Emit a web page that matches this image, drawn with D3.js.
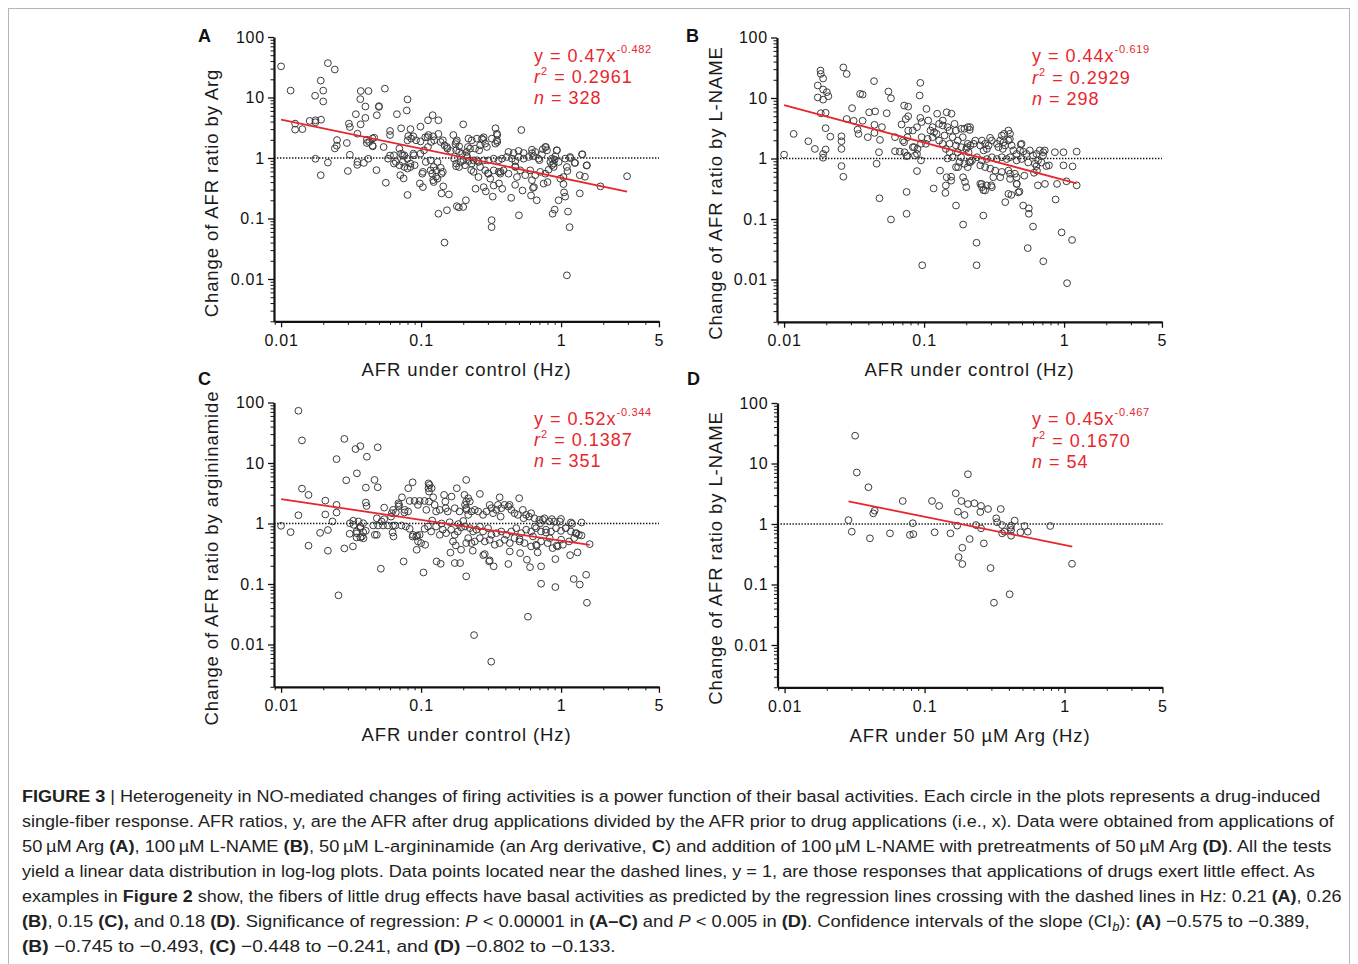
<!DOCTYPE html>
<html><head><meta charset="utf-8">
<script src="https://cdn.jsdelivr.net/npm/d3@7"></script>
<style>body{margin:0;background:#fff}svg{display:block}</style>
</head><body>
<svg id="fig" width="1358" height="964"></svg>
<script>
// ---------- DATA ----------
const dataA = [
[0.01,32.7],[0.0117,13],[0.0126,3.7],[0.0126,2.94],[0.0142,3.0],[0.016,4.1],[0.0175,10.7],[0.0176,4.2],[0.0176,3.9],[0.0176,0.97],
[0.0192,19],[0.0193,4.3],[0.0192,0.52],[0.02,13],[0.02,8.6],[0.0216,37],[0.0216,0.84],[0.0242,29],[0.0242,1.44],[0.0251,1.98],
[0.025,1.6],[0.0295,1.77],[0.0305,3.7],[0.031,3.25],[0.031,1.13],[0.03,0.61],[0.0342,5.3],[0.0371,12.8],[0.0368,9.4],[0.037,3.6],
[0.035,0.77],[0.04,7.1],[0.04,4.6],[0.0421,12.8],[0.041,2.0],[0.041,1.77],[0.042,0.97],[0.039,0.83],[0.045,2.1],[0.045,1.6],
[0.0483,5.1],[0.05,7.2],[0.05,7.0],[0.048,0.63],[0.0551,14],[0.054,1.52],[0.056,0.39],[0.06,2.4],[0.06,2.8],[0.06,1.1],
[0.064,0.81],[0.0672,5.3],[0.07,1.43],[0.072,3.1],[0.071,0.52],[0.074,1.1],[0.075,0.46],[0.079,6.1],[0.08,9.3],[0.08,0.245],
[0.084,3.0],[0.081,2.3],[0.085,2.1],[0.088,1.18],[0.084,0.71],[0.08,0.97],[0.09,0.76],[0.099,3.3],[0.099,1.88],[0.098,0.38],
[0.103,0.59],[0.103,0.33],[0.107,2.2],[0.112,4.2],[0.121,5.1],[0.118,1.84],[0.113,2.4],[0.133,4.2],[0.133,2.5],[0.133,0.12],
[0.122,0.43],[0.128,0.49],[0.138,1.84],[0.14,0.55],[0.14,0.26],[0.144,0.34],[0.147,0.04],[0.153,0.137],[0.158,0.25],[0.153,1.52],
[0.17,2.4],[0.176,1.7],[0.178,0.73],[0.18,0.16],[0.186,0.153],[0.2,3.6],[0.2,0.155],[0.209,0.2],[0.21,1.1],[0.216,1.52],
[0.228,0.63],[0.245,0.31],[0.25,0.92],[0.26,1.34],[0.278,2.0],[0.28,2.2],[0.28,0.33],[0.29,0.28],[0.3,0.56],[0.319,0.094],
[0.319,0.072],[0.325,0.23],[0.33,0.35],[0.34,3.1],[0.35,2.4],[0.35,1.84],[0.36,0.38],[0.38,0.31],[0.37,0.59],[0.44,0.22],
[0.47,0.36],[0.47,0.73],[0.5,0.113],[0.52,2.9],[0.53,0.29],[0.62,1.2],[0.61,0.24],[0.63,0.32],[0.64,0.33],[0.67,0.2],
[0.7,0.92],[0.74,1.4],[0.78,1.52],[0.8,0.4],[0.87,0.12],[0.9,0.14],[0.93,1.34],[0.96,0.2],[1.04,0.37],[1.05,0.27],
[1.07,0.23],[1.11,0.61],[1.12,0.13],[1.15,0.072],[1.1,0.0115],[1.16,1.04],[1.25,0.83],[1.36,0.26],[1.36,0.52],[1.42,1.15],
[1.48,0.49],[1.52,0.75],[1.91,0.34],[2.96,0.5],[1.1,0.71],[0.9,0.94],[0.86,0.76],
[0.348,2.52],[0.348,1.96],[0.339,1.73],[0.32,2.09],[0.218,2.09],[0.23,1.96],[0.25,2.09],[0.272,2.09],[0.287,1.73],[0.295,1.52],
[0.264,1.62],[0.243,1.43],[0.224,1.43],[0.212,1.26],[0.421,1.26],[0.458,1.21],[0.497,1.31],[0.54,1.21],[0.619,1.37],[0.654,1.26],
[0.771,1.52],[0.793,1.34],[0.73,1.15],[0.69,0.975],[0.636,1.07],[0.586,1.04],[0.54,0.975],[0.497,1.04],[0.471,0.89],[0.445,0.975],
[0.41,1.04],[0.378,0.975],[0.358,0.915],[0.33,0.975],[0.303,0.915],[0.28,0.915],[0.257,0.86],[0.237,0.915],[0.218,0.89],[0.935,1.34],
[0.91,1.07],[0.861,0.975],[0.838,0.86],[0.885,0.81],[0.961,0.86],[1.07,0.975],[1.16,1.0],[1.26,0.83],[1.41,1.15],[1.53,0.76],
[1.04,0.485],[0.988,0.455],[0.23,0.81],[0.264,0.71],[0.287,0.625],[0.303,0.55],[0.33,0.625],[0.358,0.59],[0.388,0.625],[0.421,0.55],
[0.471,0.71],[0.511,0.625],[0.555,0.52],[0.602,0.625],[0.654,0.52],[0.71,0.59],[0.771,0.55],[0.815,0.64],[0.885,0.71],[0.619,0.43],
[0.484,0.485],[0.368,0.55],[0.312,0.455],[0.257,0.485],[0.237,0.59],[0.75,0.377],
[0.08,1.96],[0.088,2.28],[0.092,1.96],[0.111,2.22],[0.122,2.28],[0.143,1.96],[0.147,1.62],[0.154,1.43],[0.163,1.31],[0.18,1.96],
[0.187,1.56],[0.072,1.18],[0.076,1.11],[0.064,1.11],[0.058,0.975],[0.066,0.86],[0.07,0.76],[0.076,0.71],[0.08,0.67],[0.084,0.81],
[0.074,0.86],[0.089,1.11],[0.099,1.18],[0.105,1.34],[0.112,1.52],[0.124,1.96],[0.102,0.55],[0.117,0.625],[0.12,0.55],[0.143,0.59],
[0.123,0.40],[0.131,0.455],[0.172,0.975],[0.178,0.81],[0.187,0.71],[0.192,0.86],[0.201,0.915],[0.206,0.76],[0.214,1.04],[0.197,1.18],
[0.187,1.26],[0.178,1.34],[0.178,1.84],[0.123,0.71],[0.128,0.625],[0.138,0.69],[0.108,0.86],[0.117,0.915],[0.131,0.86],
[0.0452,1.56],[0.0462,2.17],[0.0426,1.84],[0.0351,0.86],[0.0351,2.52]
];
const dataB = [
[0.01,1.16],[0.0117,2.55],[0.0149,1.93],[0.0166,1.44],[0.0174,16.1],[0.0174,10.2],[0.0182,28.5],[0.0183,25],[0.019,21],[0.019,13.8],
[0.0202,12.5],[0.0207,10.7],[0.019,9.4],[0.0183,5.6],[0.0198,5.7],[0.0198,3.17],[0.0214,2.3],[0.019,1.19],[0.019,1.03],[0.0198,1.41],
[0.0257,2.33],[0.0257,1.93],[0.0257,1.44],[0.0257,0.75],[0.0265,0.5],[0.0265,32],[0.028,25],[0.028,4.5],[0.0306,6.8],[0.0314,4.2],
[0.0335,3.0],[0.034,2.55],[0.0349,11.7],[0.0364,11.4],[0.0364,4.2],[0.0396,2.25],[0.0405,5.8],[0.0439,19],[0.0447,6.0],[0.0442,3.6],
[0.0442,2.65],[0.0458,0.82],[0.0476,1.27],[0.0484,2.03],[0.048,0.22],[0.05,3.3],[0.0541,5.6],[0.0556,12.8],[0.058,9.9],[0.058,0.098],
[0.062,2.25],[0.062,1.32],[0.067,1.3],[0.069,3.65],[0.072,7.5],[0.072,1.86],[0.075,1.09],[0.077,7.2],[0.077,5.0],[0.077,2.9],
[0.075,0.28],[0.075,0.122],[0.085,1.54],[0.089,3.3],[0.089,0.62],[0.089,1.19],[0.094,4.7],[0.094,17.8],[0.093,11],[0.095,0.93],
[0.096,4.0],[0.096,2.25],[0.097,0.0172],[0.104,6.6],[0.107,4.25],[0.103,1.75],[0.111,2.9],[0.117,0.32],[0.124,5.5],[0.123,2.55],
[0.13,0.63],[0.136,4.25],[0.142,0.27],[0.145,5.8],[0.157,5.5],[0.145,0.49],[0.156,0.43],[0.169,0.167],[0.175,0.72],[0.19,0.49],
[0.19,0.081],[0.2,0.336],[0.196,0.41],[0.213,3.3],[0.237,0.0405],[0.237,0.0172],[0.265,0.114],[0.265,0.3],[0.258,0.38],[0.302,0.36],
[0.312,0.49],[0.296,2.2],[0.35,0.49],[0.38,0.19],[0.4,0.26],[0.4,2.9],[0.42,0.25],[0.46,0.38],[0.48,0.285],[0.51,0.167],
[0.55,0.033],[0.56,0.15],[0.56,0.122],[0.6,0.075],[0.65,0.36],[0.71,0.02],[0.73,0.38],[0.87,0.21],[0.89,0.38],[0.96,0.06],
[1.05,0.0087],[1.14,0.045],[1.15,0.74],[1.23,0.36],[1.23,1.3],[0.99,0.77],[0.99,1.27],[0.86,1.27],[0.78,0.77],[0.71,1.27],
[0.64,0.63],[0.61,0.58],[0.52,0.52],[0.49,1.7],[0.41,2.1],[0.37,1.86],
[0.212,2.97],[0.232,1.98],[0.226,1.75],[0.214,1.64],[0.203,1.54],[0.208,1.27],[0.214,0.87],[0.259,1.98],[0.252,1.64],[0.273,1.75],
[0.281,1.44],[0.305,1.98],[0.289,1.64],[0.266,1.36],[0.331,1.75],[0.349,1.98],[0.34,1.54],[0.359,2.4],[0.373,2.56],[0.411,2.56],
[0.4,1.98],[0.422,1.64],[0.379,1.64],[0.365,1.44],[0.434,1.36],[0.458,1.19],[0.484,1.36],[0.497,1.75],[0.511,1.3],[0.539,1.19],
[0.569,1.36],[0.601,1.12],[0.635,1.19],[0.67,1.36],[0.708,1.12],[0.728,1.36],[0.411,1.05],[0.389,0.98],[0.359,1.05],[0.331,0.98],
[0.305,1.05],[0.281,0.98],[0.259,0.93],[0.239,1.05],[0.22,0.93],[0.458,0.93],[0.497,0.98],[0.554,0.86],[0.618,0.82],[0.652,0.93],
[0.69,0.86],[0.747,0.75],[0.635,0.75],[0.252,0.77],[0.273,0.72],[0.297,0.68],[0.322,0.63],[0.359,0.6],[0.4,0.63],[0.411,0.56],
[0.446,0.56],[0.458,0.49],[0.252,0.381],[0.259,0.336],[0.281,0.36],[0.305,0.336],[0.273,0.296],[0.411,0.46],[0.458,0.381],[0.471,0.275],
[1.04,0.42],
[0.074,4.5],[0.083,2.9],[0.115,3.3],[0.118,2.72],[0.128,3.74],[0.136,3.51],[0.147,3.3],[0.152,2.9],[0.165,3.74],[0.169,2.9],
[0.184,3.1],[0.194,3.1],[0.205,3.3],[0.14,2.4],[0.16,2.25],[0.174,1.98],[0.189,2.25],[0.205,1.75],[0.106,2.11],[0.115,2.25],
[0.128,1.98],[0.136,1.75],[0.152,1.75],[0.169,1.64],[0.184,1.54],[0.2,1.44],[0.0706,1.98],[0.076,2.25],[0.083,1.54],[0.0897,1.44],
[0.095,1.75],[0.0725,1.27],[0.076,1.12],[0.086,1.12],[0.156,0.5],[0.143,0.358],[0.169,0.719],[0.179,0.87],[0.194,0.816],[0.205,0.719],
[0.143,1.44],[0.152,1.27],[0.147,1.0],[0.16,1.05],[0.174,1.27],[0.184,1.05],[0.21,0.87]
];
const dataC = [
[0.01,0.915],[0.0117,0.72],[0.0133,73],[0.0141,23.6],[0.0141,3.77],[0.0133,1.37],[0.0157,2.97],[0.0157,0.43],[0.019,0.70],[0.0207,2.39],
[0.0207,1.41],[0.0216,0.355],[0.0216,0.78],[0.0233,1.08],[0.0249,11.6],[0.0249,2.03],[0.0249,1.52],[0.0257,0.065],[0.0283,25],[0.0292,5.18],
[0.0283,0.387],[0.0309,0.676],[0.0326,0.418],[0.034,17],[0.0368,19],[0.0348,6.75],[0.033,0.95],[0.0357,1.08],[0.0368,0.84],[0.0348,0.69],
[0.0378,0.61],[0.0388,0.57],[0.0403,3.92],[0.0403,2.22],[0.0408,1.95],[0.041,12.7],[0.0465,5.25],[0.049,3.97],[0.049,18.2],[0.0483,1.22],
[0.0483,0.65],[0.0516,0.179],[0.0545,1.83],[0.0545,1.18],[0.061,1.30],[0.0626,0.71],[0.0635,0.61],[0.066,1.52],[0.0689,2.16],[0.069,1.91],
[0.073,2.71],[0.075,0.236],[0.076,1.52],[0.081,3.83],[0.087,4.8],[0.087,0.61],[0.093,0.368],[0.094,0.634],[0.1,0.475],[0.104,0.155],
[0.107,0.445],[0.113,4.6],[0.113,3.83],[0.119,3.83],[0.122,2.71],[0.114,2.3],[0.129,0.236],[0.138,0.216],[0.146,2.97],[0.149,2.3],
[0.162,0.33],[0.165,2.79],[0.174,0.222],[0.18,3.83],[0.19,0.222],[0.21,5.25],[0.21,0.134],[0.21,0.475],[0.234,0.355],[0.239,0.0143],
[0.263,3.08],[0.278,0.30],[0.306,0.236],[0.317,0.0052],[0.33,0.196],[0.364,2.71],[0.42,0.214],[0.502,2.62],[0.51,0.324],[0.57,0.252],
[0.60,0.19],[0.58,0.0288],[0.72,0.196],[0.72,0.101],[0.91,0.258],[0.91,0.089],[1.16,0.30],[1.23,0.121],[1.31,0.333],[1.36,0.098],
[1.51,0.142],[1.53,0.049],[1.6,0.456],[1.29,0.69],[1.4,0.634],[1.4,1.04],[1.2,0.99],[0.98,1.08],[1.08,0.84],[1.0,0.54],
[0.93,0.43],[0.86,1.18],[0.74,1.15],[0.71,1.01],[0.78,0.71],[0.83,0.57],[0.65,0.89],[0.63,0.61],[0.67,0.43],[0.68,0.333],
[0.59,1.30],[0.54,1.22],[0.505,0.55],[0.43,0.475],[0.43,0.345],[0.42,1.91],[0.37,1.30],
[0.217,2.62],[0.223,2.31],[0.206,2.03],[0.211,1.68],[0.229,1.58],[0.217,1.39],[0.242,1.68],[0.256,1.58],[0.277,1.39],[0.293,1.58],
[0.309,2.03],[0.318,1.79],[0.327,1.48],[0.345,1.68],[0.354,2.03],[0.374,1.79],[0.395,2.03],[0.429,2.03],[0.441,1.68],[0.465,1.48],
[0.491,1.39],[0.533,1.68],[0.563,1.39],[0.611,1.48],[0.645,1.22],[0.7,1.15],[0.76,1.22],[0.824,1.08],[0.895,1.08],[0.998,1.19],
[1.175,1.04],
[0.206,0.892],[0.223,0.838],[0.235,0.738],[0.249,0.79],[0.263,0.892],[0.277,0.738],[0.301,0.838],[0.318,0.65],[0.345,0.693],[0.374,0.738],
[0.406,0.65],[0.441,0.738],[0.478,0.838],[0.519,0.693],[0.563,0.79],[0.611,0.738],[0.663,0.838],[0.719,0.738],[0.78,0.79],[0.847,0.738],
[0.92,0.838],[0.998,0.755],[1.08,0.838],[1.175,0.738],[1.27,0.693],[1.34,0.65],
[0.217,0.573],[0.229,0.474],[0.242,0.505],[0.263,0.573],[0.285,0.505],[0.309,0.538],[0.336,0.445],[0.364,0.474],[0.395,0.538],[0.465,0.573],
[0.505,0.505],[0.548,0.474],[0.611,0.418],[0.663,0.445],[0.719,0.505],[0.802,0.474],[0.87,0.392],[0.945,0.418],[1.03,0.445],[1.14,0.505],
[1.24,0.573],[0.285,0.312],[0.309,0.246],
[0.031,1.01],[0.0328,1.11],[0.0369,0.892],[0.0386,1.01],[0.0346,0.738],[0.0386,0.72],[0.0403,0.757],[0.0346,0.588],[0.0369,0.588],
[0.0455,0.927],[0.0493,0.927],[0.0535,0.927],[0.0579,0.927],[0.0631,0.927],[0.0654,0.927],[0.0725,0.927],[0.0467,0.65],[0.0522,1.08],[0.0617,1.48],
[0.0631,1.68],[0.0696,2.03],[0.0765,1.68],[0.0808,1.58],[0.0829,2.36],[0.0899,2.36],[0.095,2.03],[0.0977,2.36],[0.106,2.36],[0.109,1.68],
[0.115,4.34],[0.114,3.37],[0.125,2.03],[0.136,1.68],[0.128,1.58],[0.15,1.79],[0.155,1.58],[0.174,1.79],[0.188,1.58],[0.204,2.97],
[0.21,2.31],[0.21,1.79],
[0.0779,0.892],[0.0829,0.817],[0.0875,0.65],[0.0923,0.61],[0.0977,0.65],[0.095,0.505],[0.106,0.817],[0.112,0.892],[0.118,0.738],[0.128,0.892],
[0.136,0.65],[0.143,0.79],[0.151,0.693],[0.164,0.79],[0.174,0.65],[0.183,0.738],[0.193,0.859],[0.169,0.505],[0.177,0.434],[0.193,0.368],
[0.14,1.0],[0.16,1.05],[0.12,1.12],[0.185,0.98],[0.2,1.1]
];
const dataD = [
[0.0286,1.16],[0.0302,0.746],[0.0319,28.8],[0.0328,7.1],[0.0397,4.05],[0.0407,0.58],[0.043,1.5],[0.044,1.66],[0.0566,0.70],[0.0698,2.4],
[0.0786,0.66],[0.0831,0.68],[0.0823,1.03],[0.113,2.4],[0.118,0.73],[0.127,1.99],[0.153,0.70],[0.167,3.22],[0.173,1.6],[0.171,0.94],
[0.175,0.284],[0.183,2.4],[0.186,0.405],[0.186,0.218],[0.193,1.41],[0.204,6.65],[0.204,2.14],[0.21,0.564],[0.227,2.2],[0.233,0.96],
[0.25,1.58],[0.253,1.99],[0.253,0.848],[0.265,0.478],[0.284,1.77],[0.296,0.187],[0.313,0.05],[0.325,1.24],[0.33,1.07],[0.35,1.77],
[0.358,0.96],[0.358,0.70],[0.372,0.746],[0.405,0.069],[0.415,0.94],[0.415,0.795],[0.415,0.64],[0.44,1.14],[0.484,0.73],[0.518,0.927],
[0.546,0.746],[0.79,0.927],[1.13,0.22],[0.41,0.87]
];
// regression fits (y = a * x^b) and drawn x-extent
const fitA = {a:0.47, b:-0.482, from:0.01, to:2.96, r2:"0.2961", n:"328"};
const fitB = {a:0.44, b:-0.619, from:0.01, to:1.23, r2:"0.2929", n:"298"};
const fitC = {a:0.52, b:-0.344, from:0.01, to:1.6, r2:"0.1387", n:"351"};
const fitD = {a:0.45, b:-0.467, from:0.0286, to:1.135, r2:"0.1670", n:"54"};
const panelLetters = ["A","B","C","D"];
const yTitles = ["Change of AFR ratio by Arg","Change of AFR ratio by L-NAME","Change of AFR ratio by argininamide","Change of AFR ratio by L-NAME"];
const xTitles = ["AFR under control (Hz)","AFR under control (Hz)","AFR under control (Hz)","AFR under 50 \u00B5M Arg (Hz)"];
const yTickValues = [0.01,0.1,1,10,100];
const yTickLabels = ["0.01","0.1","1","10","100"];
const xTickValues = [0.01,0.1,1,5];
const xTickLabels = ["0.01","0.1","1","5"];

// caption lines: [text, style]
const captionLines = [
 [["FIGURE 3","b"],[" | Heterogeneity in NO-mediated changes of firing activities is a power function of their basal activities. Each circle in the plots represents a drug-induced",""]],
 [["single-fiber response. AFR ratios, y, are the AFR after drug applications divided by the AFR prior to drug applications (i.e., x). Data were obtained from applications of",""]],
 [["50\u2009\u00B5M Arg ",""],["(A)","b"],[", 100\u2009\u00B5M L-NAME ",""],["(B)","b"],[", 50\u2009\u00B5M L-argininamide (an Arg derivative, ",""],["C","b"],[") and addition of 100\u2009\u00B5M L-NAME with pretreatments of 50\u2009\u00B5M Arg ",""],["(D)","b"],[". All the tests",""]],
 [["yield a linear data distribution in log-log plots. Data points located near the dashed lines, y = 1, are those responses that applications of drugs exert little effect. As",""]],
 [["examples in ",""],["Figure 2","b"],[" show, the fibers of little drug effects have basal activities as predicted by the regression lines crossing with the dashed lines in Hz: 0.21 ",""],["(A)","b"],[", 0.26",""]],
 [["(B)","b"],[", 0.15 ",""],["(C),","b"],[" and 0.18 ",""],["(D)","b"],[". Significance of regression: ",""],["P","i"],[" < 0.00001 in ",""],["(A\u2013C)","b"],[" and ",""],["P","i"],[" < 0.005 in ",""],["(D)","b"],[". Confidence intervals of the slope (CI",""],["b","sub"],["): ",""],["(A)","b"],[" \u22120.575 to \u22120.389,",""]],
 [["(B)","b"],[" \u22120.745 to \u22120.493, ",""],["(C)","b"],[" \u22120.448 to \u22120.241, and ",""],["(D)","b"],[" \u22120.802 to \u22120.133.",""]]
];
const captionRight = [1321,1334,1333,1316,1342,1310,616];

// ---------- LAYOUT ----------
const FONT = "'Liberation Sans', Arial, Helvetica, sans-serif";
const RED = "#e8262d";
const svg = d3.select("#fig");
svg.append("rect").attr("x",8.5).attr("y",8.5).attr("width",1341).attr("height",980)
  .attr("fill","none").attr("stroke","#b5b5b5").attr("stroke-width",1);

const panels = [
 {data:dataA, fit:fitA, L:274, T:37,  eqX:534,  eqY:61.5, lblX:198, lblY:42,  ytX:218, ytY:193},
 {data:dataB, fit:fitB, L:777, T:37.5,eqX:1032, eqY:62,   lblX:686, lblY:42,  ytX:722, ytY:193},
 {data:dataC, fit:fitC, L:274, T:402.5,eqX:534, eqY:424.5,lblX:198, lblY:385, ytX:218, ytY:558},
 {data:dataD, fit:fitD, L:777.5,T:403,eqX:1032, eqY:425,  lblX:687, lblY:385, ytX:722, ytY:558}
];
const X_MIN = 0.0089, X_MAX = 5, Y_MIN = 0.002, Y_MAX = 100;
const PW = 140*Math.log10(X_MAX/X_MIN), PH = 60.5*Math.log10(Y_MAX/Y_MIN);

function minorTicks(lo, hi){
  const out=[];
  for(let e=-4;e<=2;e++) for(let k=2;k<=9;k++){const v=k*Math.pow(10,e); if(v>=lo*0.999 && v<=hi*1.001) out.push(v);}
  return out;
}

panels.forEach((p,i)=>{
  const g = svg.append("g");
  const x = d3.scaleLog().domain([X_MIN,X_MAX]).range([p.L, p.L+PW]);
  const y = d3.scaleLog().domain([Y_MIN,Y_MAX]).range([p.T+PH, p.T]);
  const bottom = p.T+PH;

  // minor ticks
  const yMinor = g.append("g").attr("transform",`translate(${p.L},0)`)
    .call(d3.axisLeft(y).tickValues(minorTicks(Y_MIN,Y_MAX)).tickSize(3.5).tickSizeOuter(0).tickFormat(""));
  yMinor.select(".domain").remove();
  const xMinor = g.append("g").attr("transform",`translate(0,${bottom})`)
    .call(d3.axisBottom(x).tickValues(minorTicks(X_MIN,X_MAX).filter(v=>v!==5)).tickSize(3.5).tickSizeOuter(0).tickFormat(""));
  xMinor.select(".domain").remove();
  [yMinor,xMinor].forEach(a=>a.selectAll("line").attr("stroke","#111").attr("stroke-width",1));

  // major axes
  const yAx = g.append("g").attr("transform",`translate(${p.L},0)`)
    .call(d3.axisLeft(y).tickValues(yTickValues).tickSize(6).tickSizeOuter(0).tickPadding(3)
      .tickFormat((d,j)=>yTickLabels[j]));
  const xAx = g.append("g").attr("transform",`translate(0,${bottom})`)
    .call(d3.axisBottom(x).tickValues(xTickValues).tickSize(6).tickSizeOuter(0).tickPadding(7)
      .tickFormat((d,j)=>xTickLabels[j]));
  [yAx,xAx].forEach(a=>{
    a.select(".domain").attr("stroke","#111").attr("stroke-width",2.2);
    a.selectAll(".tick line").attr("stroke","#111").attr("stroke-width",1.3);
    a.selectAll(".tick text").attr("fill","#111").style("font-family",FONT).style("font-size","16px").style("letter-spacing","0.8px");
  });

  // reference line y = 1
  g.append("line").attr("x1",x(X_MIN)).attr("x2",x(X_MAX)).attr("y1",y(1)).attr("y2",y(1))
    .attr("stroke","#111").attr("stroke-width",1.3).attr("stroke-dasharray","1.4,1.6");

  // points
  g.append("g").selectAll("circle").data(p.data).join("circle")
    .attr("cx",d=>x(d[0])).attr("cy",d=>y(d[1])).attr("r",3.4)
    .attr("fill","none").attr("stroke","#3c3c3c").attr("stroke-width",1.0);

  // regression line
  const f = p.fit;
  const ends = [f.from, f.to].map(v=>[v, f.a*Math.pow(v,f.b)]);
  g.append("path").attr("d", d3.line().x(d=>x(d[0])).y(d=>y(d[1]))(ends))
    .attr("fill","none").attr("stroke",RED).attr("stroke-width",1.8);

  // equation
  const t1 = g.append("text").attr("x",p.eqX).attr("y",p.eqY).attr("fill",RED)
    .style("font-family",FONT).style("font-size","18px").style("letter-spacing","1px");
  t1.append("tspan").text(`y = ${f.a}x`);
  t1.append("tspan").attr("dy",-9).style("font-size","11px").style("letter-spacing","0.7px").text(`${f.b}`);
  const t2 = g.append("text").attr("x",p.eqX).attr("y",p.eqY+21.5).attr("fill",RED)
    .style("font-family",FONT).style("font-size","18px").style("letter-spacing","1px");
  t2.append("tspan").style("font-style","italic").text("r");
  t2.append("tspan").attr("dy",-8).style("font-size","11px").text("2");
  t2.append("tspan").attr("dy",8).text(` = ${f.r2}`);
  const t3 = g.append("text").attr("x",p.eqX).attr("y",p.eqY+42.5).attr("fill",RED)
    .style("font-family",FONT).style("font-size","18px").style("letter-spacing","1px");
  t3.append("tspan").style("font-style","italic").text("n");
  t3.append("tspan").text(` = ${f.n}`);

  // panel letter
  g.append("text").attr("x",p.lblX).attr("y",p.lblY).text(panelLetters[i])
    .style("font-family",FONT).style("font-size","18px").style("font-weight","bold").attr("fill","#111");
  // axis titles
  g.append("text").attr("x",(x(X_MIN)+x(X_MAX))/2).attr("y",bottom+54.7).attr("text-anchor","middle")
    .text(xTitles[i]).style("font-family",FONT).style("font-size","18.5px").style("letter-spacing","0.9px").attr("fill","#1a1a1a");
  g.append("text").attr("transform",`translate(${p.ytX},${p.ytY}) rotate(-90)`).attr("text-anchor","middle")
    .text(yTitles[i]).style("font-family",FONT).style("font-size","18.5px").style("letter-spacing","0.9px").attr("fill","#1a1a1a");
});

// ---------- CAPTION ----------
captionLines.forEach((segs,i)=>{
  const t = svg.append("text").attr("x",0).attr("y",0).attr("fill","#222")
    .style("font-family",FONT).style("font-size","17px");
  segs.forEach(([txt,st])=>{
    const s = t.append("tspan").text(txt);
    if(st==="b") s.style("font-weight","bold");
    if(st==="i") s.style("font-style","italic");
    if(st==="sub") s.style("font-style","italic").style("font-size","12px").attr("dy",4);
  });
  t.selectAll("tspan").each(function(d,k,nodes){
    if(k>0 && nodes[k-1].getAttribute("dy")==="4") d3.select(this).attr("dy",-4);
  });
  const w = t.node().getComputedTextLength();
  const sx = (captionRight[i]-22)/w;
  t.attr("transform",`translate(22,${802+25*i}) scale(${sx},1)`);
});
</script>
</body></html>
